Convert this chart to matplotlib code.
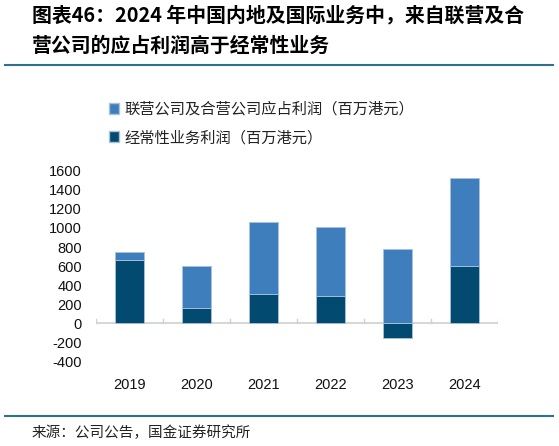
import numpy as np
import matplotlib
matplotlib.use("Agg")
import matplotlib.pyplot as plt
from matplotlib.lines import Line2D
from matplotlib.patches import Patch

plt.rcParams['font.family'] = ['Noto Sans CJK SC', 'DejaVu Sans']

years = ["2019", "2020", "2021", "2022", "2023", "2024"]
core_profit = [668, 162, 304, 290, -150, 600]
jv_profit = [76, 435, 755, 719, 776, 926]
yticks = [-400, -200, 0, 200, 400, 600, 800, 1000, 1200, 1400, 1600]

title = "图表46：2024 年中国内地及国际业务中，来自联营及合\n营公司的应占利润高于经常性业务"
label_jv = "联营公司及合营公司应占利润（百万港元）"
label_core = "经常性业务利润（百万港元）"
source = "来源：公司公告，国金证券研究所"

LIGHT = "#3f7ebd"
DARK = "#024a70"
LINE = "#2f6f8f"

fig = plt.figure(figsize=(5.59, 4.46), dpi=100)
ax = fig.add_axes([0.1717, 0.1895, 0.7192, 0.4278])

x = np.arange(len(years))
core = np.array(core_profit)
jv = np.array(jv_profit)
ax.bar(x, core, width=0.42, color=DARK, edgecolor="#a8c2da", linewidth=0.6, zorder=3)
ax.bar(x, jv, bottom=np.maximum(core, 0), width=0.42, color=LIGHT,
       edgecolor="#a8c2da", linewidth=0.6, zorder=3)

ax.set_xlim(-0.5, len(years) - 0.5)
ax.set_ylim(-400, 1600)
ax.set_yticks(yticks)
ax.set_yticklabels([str(v) for v in yticks], family=['Liberation Sans'], fontsize=10.5)
ax.tick_params(axis='y', length=0, pad=10, colors="#111111")
ax.set_xticks(x)
ax.set_xticklabels(years, family=['Liberation Sans'], fontsize=10.5)
ax.tick_params(axis='x', length=0, pad=12, colors="#111111")
for s in ["top", "right", "left", "bottom"]:
    ax.spines[s].set_visible(False)
ax.axhline(0, color="#d0d0d0", linewidth=1.2, zorder=2)
# small separators between categories on the zero line
for b in np.arange(-0.5, len(years)):
    ax.plot([b, b], [0, 45], color="#d0d0d0", linewidth=1.0, zorder=2)

# legend
handles = [Patch(facecolor=LIGHT, edgecolor="#a8c2da"), Patch(facecolor=DARK, edgecolor="#a8c2da")]
fig.legend(handles, [label_jv, label_core], loc="upper left", bbox_to_anchor=(0.17, 0.805),
           frameon=False, fontsize=11, handlelength=0.7, handleheight=0.7,
           handletextpad=0.3, labelspacing=0.75, labelcolor="#222222")

# title and separator lines
fig.text(0.057, 0.99, title, fontsize=14.3, fontweight='bold', style='italic',
         va='top', ha='left', linespacing=1.55)
fig.add_artist(Line2D([0.009, 0.99], [1 - 64.5 / 446] * 2, color=LINE, linewidth=1.5))
fig.add_artist(Line2D([0.009, 0.99], [1 - 415.5 / 446] * 2, color=LINE, linewidth=1.5))
fig.text(0.057, 1 - 433 / 446, source, fontsize=10.5, va='center', ha='left', color="#222222")

fig.savefig("out.png", dpi=100)
